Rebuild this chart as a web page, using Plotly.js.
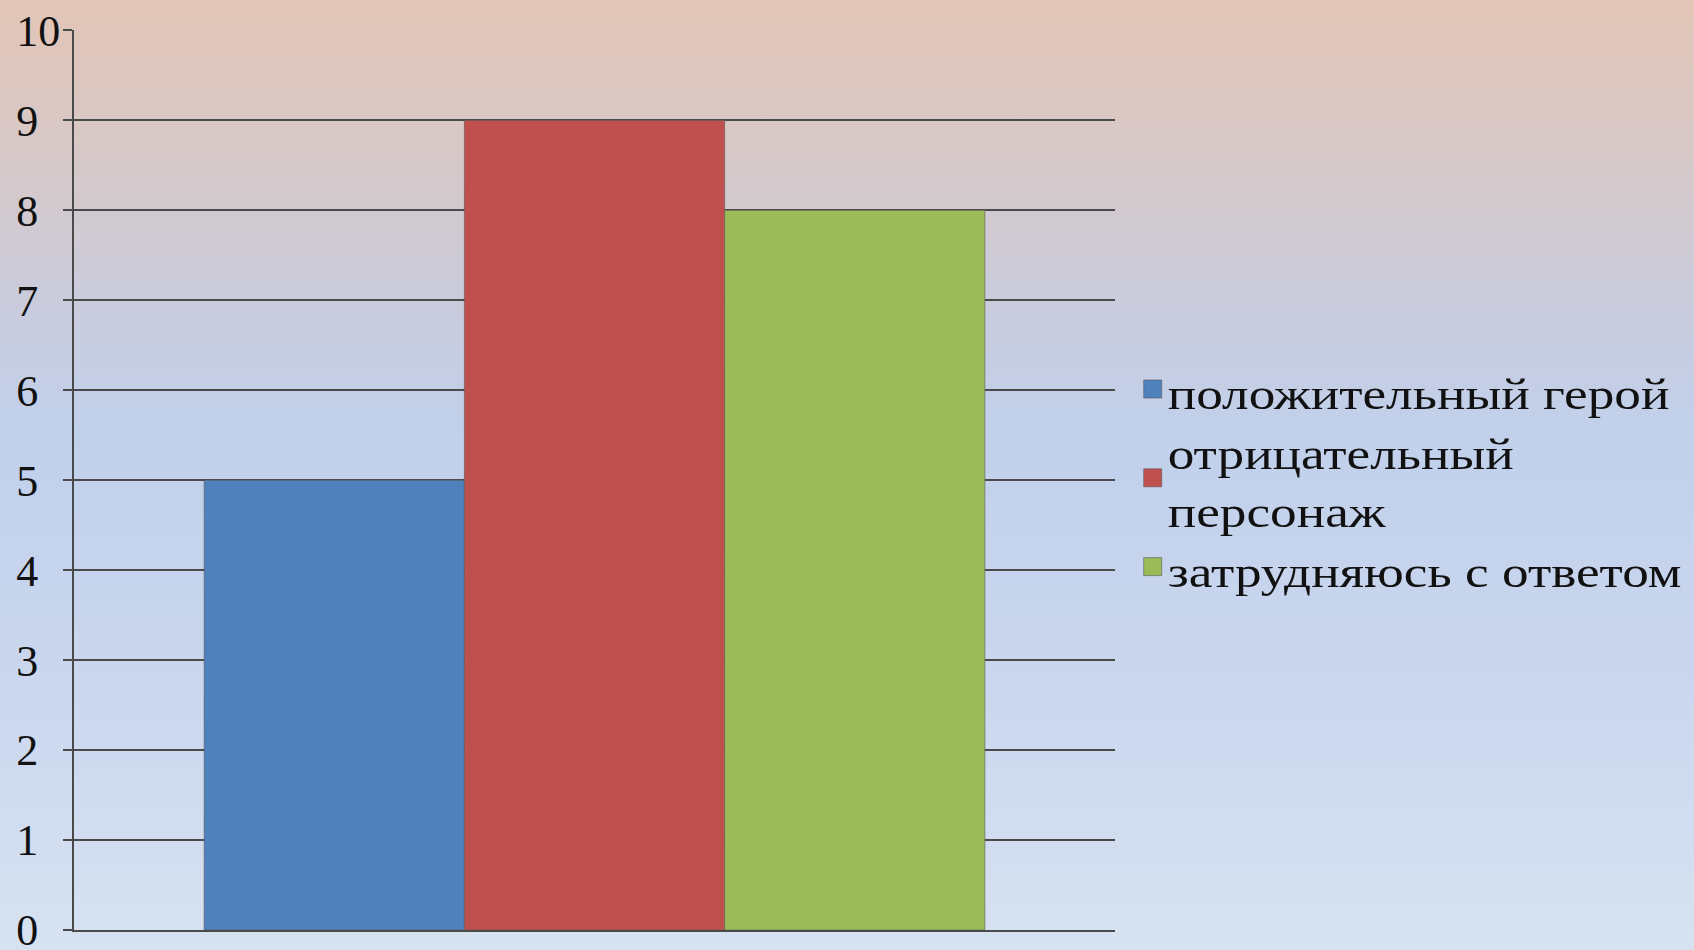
<!DOCTYPE html>
<html>
<head>
<meta charset="utf-8">
<script src="https://cdn.plot.ly/plotly-3.0.1.min.js"></script>
<style>
  html, body { margin: 0; padding: 0; width: 1694px; height: 950px; overflow: hidden;
    background: linear-gradient(to bottom, #e3c5b7 0%, #d8c8c6 15%, #cbcbda 30%, #c1d0eb 45%, #c9d6ee 70%, #d7e2f1 100%); }
  #chart { width: 1694px; height: 950px; }
  .legend .legendtext { transform-box: fill-box; transform-origin: 0 0; transform: scaleX(1.21); }
</style>
</head>
<body>
<div id="chart"></div>
<script>
const categories = ["1"];
const seriesNames = ["положительный герой", "отрицательный<br>персонаж", "затрудняюсь с ответом"];
const seriesValues = [[5], [9], [8]];
const seriesColors = ["#4f81bd", "#c0504d", "#9bbb59"];
const yTicks = [0, 1, 2, 3, 4, 5, 6, 7, 8, 9, 10];
const yTickLabels = ["0", "1", "2", "3", "4", "5", "6", "7", "8", "9", "10"];

const traces = seriesNames.map((name, i) => ({
  type: "bar",
  name: name,
  x: categories,
  y: seriesValues[i],
  marker: { color: seriesColors[i], line: { color: "rgba(90,90,90,0.6)", width: 1 } },
  hoverinfo: "none"
}));

// labels in the reference are left-aligned: pad one-digit labels with an en space
const paddedLabels = yTickLabels.map(t => t.length === 1 ? t + "\u2002" : t);

const layout = {
  width: 1694,
  height: 950,
  paper_bgcolor: "rgba(0,0,0,0)",
  plot_bgcolor: "rgba(0,0,0,0)",
  margin: { l: 74, r: 579, t: 30, b: 20, pad: 0 },
  barmode: "group",
  bargap: 0.25,
  bargroupgap: 0,
  showlegend: true,
  font: { family: "Liberation Serif, Times New Roman, serif", color: "#111" },
  xaxis: {
    type: "category",
    showticklabels: false,
    showgrid: false,
    showline: true,
    linecolor: "#4a4a4a",
    linewidth: 2,
    ticks: "",
    zeroline: false,
    fixedrange: true
  },
  yaxis: {
    range: [0, 10.004],
    tickvals: yTicks,
    ticktext: paddedLabels,
    showgrid: true,
    gridcolor: "#4a4a4a",
    gridwidth: 2,
    showline: true,
    linecolor: "#4a4a4a",
    linewidth: 2,
    ticks: "outside",
    ticklen: 9,
    tickwidth: 2,
    tickcolor: "#4a4a4a",
    ticklabelstandoff: -6,
    ticklabeloverflow: "allow",
    zeroline: false,
    tickfont: { family: "Liberation Serif, Times New Roman, serif", size: 44, color: "#111" },
    fixedrange: true
  },
  legend: {
    x: 1.0122,
    xanchor: "left",
    y: 0.499,
    yanchor: "middle",
    bgcolor: "rgba(0,0,0,0)",
    borderwidth: 0,
    font: { family: "Liberation Serif, Times New Roman, serif", size: 44, color: "#111" },
    traceorder: "normal",
    valign: "middle"
  }
};

Plotly.newPlot("chart", traces, layout, { displayModeBar: false, staticPlot: true }).then(gd => {
  // enlarge legend swatches to match the reference's bigger squares
  gd.querySelectorAll(".legend .legendpoints path").forEach(p => {
    p.setAttribute("d", "M14,6H-4V-12H14Z");
  });
  // the reference legend text is wider; let it extend past Plotly's computed box
  gd.querySelectorAll(".legend [clip-path]").forEach(el => el.removeAttribute("clip-path"));
});
</script>
</body>
</html>
